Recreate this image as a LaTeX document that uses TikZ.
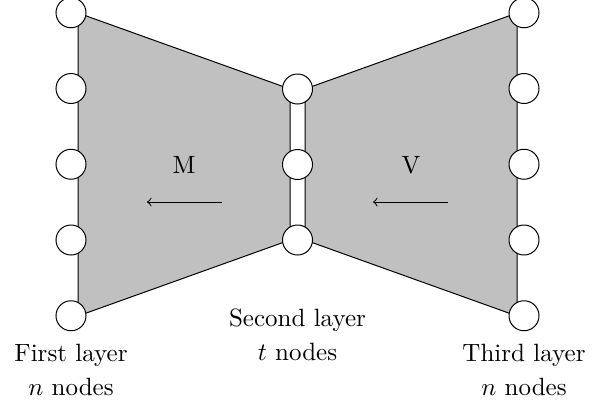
\documentclass[tikz,border=0pt]{standalone}
\usetikzlibrary{positioning}
\definecolor{silver}{RGB}{192,192,192}
\begin{document}
\begin{tikzpicture}[x=0.4pt, y=0.4pt,
		unit/.style={circle, draw, fill=white, minimum size=12pt, inner sep=0pt},
		layer/.style={draw, fill=silver}]
		\useasboundingbox (0,0) rectangle (592,415);

		% the two maps
		\draw[layer] (78,402) -- (290,326) -- (290,175) -- (78,99) -- cycle;
		\draw[layer] (305,326) -- (517,402) -- (517,99) -- (305,175) -- cycle;

		% units of each layer
		\foreach \i in {1,...,5} {
			\node[unit] (l\i) at (71, 478 - 75.75*\i) {};
			\node[unit] (r\i) at (524, 478 - 75.75*\i) {};
		}
		\foreach \i in {1,2,3}
			\node[unit] (m\i) at (297.5, 401.5 - 75.5*\i) {};

		\node (M) at (184,250) {M};
		\node (V) at (411,250) {V};
		\coordinate (ma) at (222,213);
		\coordinate (mb) at (147,213);
		\coordinate (va) at (448,213);
		\coordinate (vb) at (373,213);
		\draw[->] (ma) -- (mb);
		\draw[->] (va) -- (vb);

		\begin{scope}[align=center]
			\node[below=1.5pt of l5] (first) {First layer\\[1.6pt]$n$ nodes};
			\node[below=18pt of m3] (second) {Second layer\\[1.6pt]$t$ nodes};
			\node[below=1.5pt of r5] (third) {Third layer\\[1.6pt]$n$ nodes};
		\end{scope}

	\end{tikzpicture}
\end{document}
